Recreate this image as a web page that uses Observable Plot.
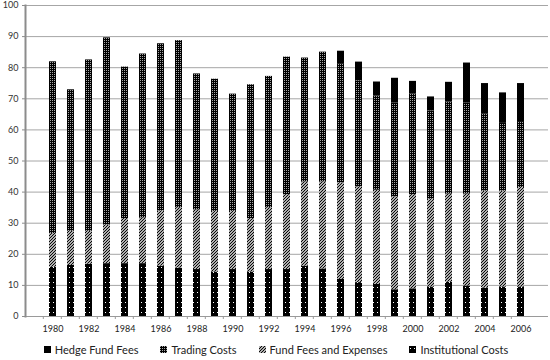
<!DOCTYPE html>
<html><head><meta charset="utf-8">
<script src="https://cdn.jsdelivr.net/npm/d3@7"></script>
<script src="https://cdn.jsdelivr.net/npm/@observablehq/plot@0.6"></script>
<style>
body{margin:0;background:#fff;font-family:Lato, "DejaVu Sans", sans-serif;}
#legend{display:flex;justify-content:center;gap:22px;font-size:11px;color:#222;height:22px;align-items:center;padding-left:2px;width:550px;box-sizing:border-box}
.item{display:flex;align-items:center;white-space:nowrap}
.item svg{margin-right:4px}
</style></head><body><div id="chart"></div><div id="legend"></div>
<script>
const years = [1980,1981,1982,1983,1984,1985,1986,1987,1988,1989,1990,1991,1992,1993,1994,1995,1996,1997,1998,1999,2000,2001,2002,2003,2004,2005,2006];
const institutionalCosts = [15.8,16.4,16.8,17.0,17.0,17.0,16.2,15.6,15.1,14.3,15.1,14.3,15.1,15.1,16.2,15.3,11.9,10.9,10.3,8.6,8.9,9.5,11.0,9.8,9.2,9.5,9.5];
const fundFeesAndExpenses = [10.9,11.0,10.6,12.4,14.5,14.7,17.7,19.4,19.2,19.5,18.7,17.2,19.9,24.1,27.1,28.0,31.1,30.8,30.3,29.9,30.3,28.2,28.4,29.6,31.1,30.8,32.0];
const tradingCosts = [55.2,45.5,55.1,60.2,48.7,52.7,53.8,53.7,43.7,42.5,37.7,43.0,42.2,44.2,39.8,41.7,38.3,34.1,30.3,30.1,32.3,28.4,29.6,29.2,24.9,21.8,20.9];
const hedgeFundFees = [0,0,0,0,0,0,0,0,0,0,0,0,0,0,0,0,4.0,6.0,4.5,8.0,4.1,4.5,6.3,12.9,9.7,9.8,12.5];
const seriesNames = ["Institutional Costs","Fund Fees and Expenses","Trading Costs","Hedge Fund Fees"];
const seriesValues = [institutionalCosts, fundFeesAndExpenses, tradingCosts, hedgeFundFees];
const legendOrder = ["Hedge Fund Fees","Trading Costs","Fund Fees and Expenses","Institutional Costs"];
const xTickLabels = years.filter((y, i) => i % 2 === 0);
const yTicks = [0,10,20,30,40,50,60,70,80,90,100];

const fills = {
  "Institutional Costs": "url(#pInst)",
  "Fund Fees and Expenses": "url(#pFund)",
  "Trading Costs": "url(#pTrade)",
  "Hedge Fund Fees": "#000"
};

const rows = [];
seriesNames.forEach((s, si) => years.forEach((y, i) => rows.push({year: y, series: s, value: seriesValues[si][i]})));

const W = 550, H = 338, mL = 25, mR = 2, mT = 5, mB = 22;
const step = (W - mL - mR) / years.length;

const chart = Plot.plot({
  width: W, height: H,
  marginLeft: mL, marginRight: mR, marginTop: mT, marginBottom: mB,
  style: {fontFamily: "Lato, 'DejaVu Sans', sans-serif", fontSize: "9px", background: "#fff", color: "#333"},
  x: {type: "band", domain: years, padding: 0.6, label: null},
  y: {domain: [0, 100], label: null},
  color: {domain: seriesNames, range: seriesNames.map(s => fills[s])},
  marks: [
    Plot.gridY(yTicks.filter(t => t > 0), {stroke: "#a6a6a6", strokeOpacity: 1}),
    Plot.barY(rows, Plot.stackY({x: "year", y: "value", fill: "series"})),
    Plot.ruleY([0], {stroke: "#9a9a9a", strokeWidth: 1}),
    Plot.axisX({ticks: years, tickSize: 3, text: null, stroke: "#9a9a9a", dx: -step / 2}),
    Plot.axisX({ticks: xTickLabels, tickSize: 0, tickPadding: 9, tickFormat: d => String(d), fill: "#222"}),
    Plot.axisY({ticks: yTicks, tickSize: 3, tickPadding: 4, stroke: "#8c8c8c", fill: "#333"}),
    Plot.frame({anchor: "left", stroke: "#8c8c8c", strokeWidth: 2})
  ]
});

const defs = `
<pattern id="pInst" width="4" height="5" patternUnits="userSpaceOnUse"><rect width="4" height="5" fill="#000"/><rect x="1" y="2" width="1" height="1" fill="#fff"/></pattern>
<pattern id="pFund" width="3" height="3" patternUnits="userSpaceOnUse"><rect width="3" height="3" fill="#fff"/><path d="M-1,1 l2,-2 M0,3 l3,-3 M2,4 l2,-2" stroke="#000" stroke-width="1.2"/></pattern>
<pattern id="pTrade" width="2" height="2" patternUnits="userSpaceOnUse"><rect width="2" height="2" fill="#000"/><rect width="1" height="1" fill="#a8a8a8"/></pattern>`;
d3.select(chart).insert("defs", ":first-child").html(defs);
document.getElementById("chart").appendChild(chart);

const legend = d3.select("#legend");
legendOrder.forEach(s => {
  const it = legend.append("div").attr("class", "item");
  const sw = it.append("svg").attr("width", 7).attr("height", 7);
  sw.append("rect").attr("width", 7).attr("height", 7).attr("fill", fills[s]);
  it.append("span").text(s);
});
</script></body></html>
